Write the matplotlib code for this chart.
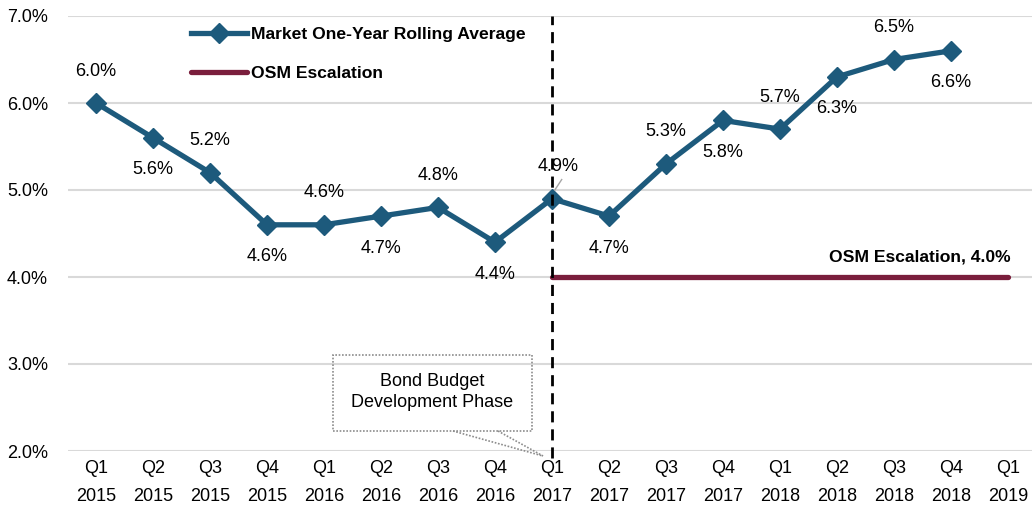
import matplotlib
matplotlib.use("Agg")
import matplotlib.pyplot as plt
from matplotlib.patches import Rectangle

plt.rcParams['font.family'] = ['Liberation Sans', 'DejaVu Sans']
FS = 13

categories = ["Q1\n2015", "Q2\n2015", "Q3\n2015", "Q4\n2015",
              "Q1\n2016", "Q2\n2016", "Q3\n2016", "Q4\n2016",
              "Q1\n2017", "Q2\n2017", "Q3\n2017", "Q4\n2017",
              "Q1\n2018", "Q2\n2018", "Q3\n2018", "Q4\n2018",
              "Q1\n2019"]
market = [6.0, 5.6, 5.2, 4.6, 4.6, 4.7, 4.8, 4.4,
          4.9, 4.7, 5.3, 5.8, 5.7, 6.3, 6.5, 6.6]
osm_start = 8
osm_value = 4.0
yticks = [2.0, 3.0, 4.0, 5.0, 6.0, 7.0]

blue = "#1D5A7C"
maroon = "#7A1E3C"

W, H = 1032, 518
fig = plt.figure(figsize=(W / 100, H / 100), dpi=100)
left = 67.5 / W
width = 969 / W
bottom = (H - 451) / H
top = (H - 16) / H
ax = fig.add_axes([left, bottom, width, top - bottom])

x = list(range(len(market)))
ax.plot(x, market, color=blue, lw=3.8, marker="D", ms=10,
        label="Market One-Year Rolling Average", zorder=4)
osm_x = list(range(osm_start, len(categories)))
ax.plot(osm_x, [osm_value] * len(osm_x), color=maroon, lw=3.8,
        label="OSM Escalation", zorder=3, solid_capstyle="round")

ax.set_xlim(-0.5, len(categories) - 0.5)
ax.set_ylim(2.0, 7.0)
ax.set_yticks(yticks)
ax.set_yticklabels([f"{v:.1f}%" for v in yticks], fontsize=FS)
ax.set_xticks(range(len(categories)))
ax.set_xticklabels(categories, fontsize=FS, linespacing=1.85)
ax.tick_params(axis="both", length=0)
ax.tick_params(axis="x", pad=6.5)
ax.tick_params(axis="y", pad=14)
ax.grid(axis="y", color="#D9D9D9", lw=1.5)
ax.set_axisbelow(True)
for s in ax.spines.values():
    s.set_visible(False)

px_per_unit = 87.0
for i, v in enumerate(market):
    above = (i % 2 == 0)
    off = 32 / px_per_unit
    ty = v + off if above else v - off
    tx = i
    if i == osm_start:
        tx = i + 0.11
    ax.text(tx, ty, f"{v:.1f}%", ha="center", va="center", fontsize=FS, zorder=5)
ax.plot([osm_start + 0.05, osm_start + 0.17], [market[osm_start] + 0.10, market[osm_start] + 0.22],
        color="#A6A6A6", lw=1, zorder=5)

ax.plot([osm_start, osm_start], [1.92, 7.0], color="black", lw=2, ls=(0, (4, 2.5)),
        zorder=6, clip_on=False)

ax.text(16.05, osm_value + 0.23, "OSM Escalation, 4.0%", ha="right", va="center",
        fontsize=12.6, fontweight="bold")

def dx(px):
    return (px - 96) / 57.0
def dy(py):
    return 7.0 - (py - 16) / px_per_unit

ax.add_patch(Rectangle((dx(333), dy(431)), dx(532) - dx(333), dy(355) - dy(431),
                       fill=False, ec="#8C8C8C", lw=1.2, ls=(0, (1, 1)), zorder=5))
ax.text((dx(333) + dx(532)) / 2, dy(392), "Bond Budget\nDevelopment Phase",
        ha="center", va="center", fontsize=FS, linespacing=1.35)
ax.plot([dx(453), dx(543)], [dy(431), dy(456)], color="#8C8C8C", lw=1.2,
        ls=(0, (1, 1)), clip_on=False, zorder=5)
ax.plot([dx(498), dx(543)], [dy(431), dy(456)], color="#8C8C8C", lw=1.2,
        ls=(0, (1, 1)), clip_on=False, zorder=5)

leg = ax.legend(loc="upper left", bbox_to_anchor=(113 / 969, 1.0), frameon=False,
                prop={"weight": "bold", "size": 12.6}, handlelength=3.2,
                handletextpad=0.25, labelspacing=1.35, borderaxespad=0.2)

fig.savefig("out.png", dpi=100)
